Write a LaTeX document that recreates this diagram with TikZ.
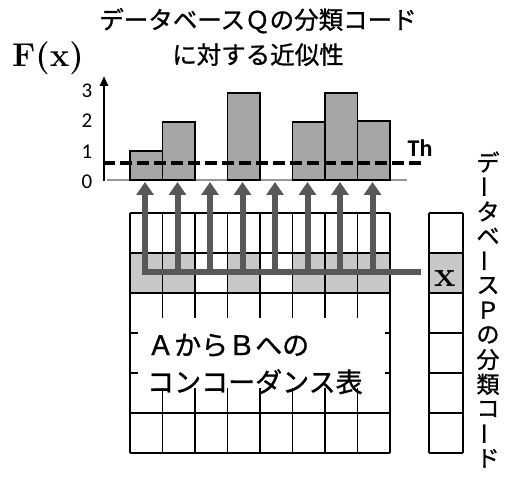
\documentclass[tikz,border=0pt]{standalone}
\usepackage{fontspec}
\newfontfamily\jp{Noto Sans CJK JP}[FakeBold=1]
\newfontfamily\carl{Carlito}
\usetikzlibrary{arrows.meta}
\definecolor{arrowgray}{RGB}{88,88,90}
\definecolor{cellgray}{RGB}{200,200,200}
\definecolor{bargray}{RGB}{166,166,166}
\definecolor{basegray}{RGB}{150,150,150}
\begin{document}
\begin{tikzpicture}[x=1pt,y=-1pt,
  gridline/.style={line width=1.1pt, black},
  barbox/.style={draw=black, line width=1.2pt, fill=bargray},
  feed/.style={line width=6pt, draw=arrowgray},
  feedtip/.style={feed, -{Triangle[width=17pt,length=13pt]}},
  ticklab/.style={font=\carl\fontsize{21}{21}\selectfont, inner sep=0},
  vchar/.style={font=\jp\fontsize{23}{23}\selectfont, inner sep=0},
]
\useasboundingbox (0,0) rectangle (511,481);

% shaded cells
\foreach \i in {0,1,3,5,6,7}
  \fill[cellgray] (130+32.5*\i,253) rectangle ++(32.5,40);
\fill[cellgray] (429,253) rectangle (463,293);

% concordance grid
\foreach \i in {0,...,8}
  \draw[gridline] (130+32.5*\i,213) -- (130+32.5*\i,453);
\foreach \j in {0,...,6}
  \draw[gridline] (130,213+40*\j) -- (390,213+40*\j);
% code column of P
\foreach \j in {0,...,6}
  \draw[gridline] (429,213+40*\j) -- (463,213+40*\j);
\draw[gridline] (429,213) -- (429,453);
\draw[gridline] (463,213) -- (463,453);

% white area for the table label
\fill[white] (138,318) rectangle (385,388);
\node[anchor=west, align=left, inner sep=0,
      font=\jp\fontsize{27}{37}\selectfont] (tbl) at (147,364)
      {ＡからＢへの\\コンコーダンス表};

% x cell
\node[font=\bfseries\fontsize{36}{36}\selectfont, inner sep=0] (xc) at (445,279) {x};

% chart baseline
\draw[basegray, line width=1.2pt] (107,180) -- (407,180);

% bars
\draw[barbox] (130,180) rectangle (162.5,151);
\draw[barbox] (162.5,180) rectangle (195,122);
\draw[barbox] (227.5,180) rectangle (260,93);
\draw[barbox] (292.5,180) rectangle (325,122);
\draw[barbox] (325,180) rectangle (357.5,93);
\draw[barbox] (357.5,180) rectangle (390,121);

% threshold
\draw[black, line width=3.5pt, dash pattern=on 12pt off 5pt] (103,163) -- (422,163);
\node[font=\carl\bfseries\fontsize{24}{24}\selectfont, inner sep=0] (th) at (420,148) {Th};

% y axis
\draw[line width=2.5pt, -{Triangle[width=8pt,length=10pt]}] (104,181) -- (104,76);
\node[ticklab] (l3) at (87,91) {3};
\node[ticklab] (l2) at (87,121) {2};
\node[ticklab] (l1) at (87,152) {1};
\node[ticklab] (l0) at (87,182) {0};

% arrows from the row of x to the bars
\coordinate (hr) at (421,272);
\foreach \i in {0,...,7} {
  \coordinate (b\i) at (145+32.5*\i,272);
  \coordinate (t\i) at (145+32.5*\i,182);
}
\draw[feedtip] (hr) -- (b0) -- (t0);
\foreach \i in {1,...,7}
  \draw[feedtip] (b\i) -- (t\i);

% titles
\node[font=\jp\fontsize{24.5}{35}\selectfont, align=center, inner sep=0] (title) at (258,37)
  {データベースＱの分類コード\\に対する近似性};
\node[font=\bfseries\fontsize{33}{33}\selectfont, inner sep=0] (fx) at (48,58) {F(x)};

% vertical label
\foreach \c/\r [count=\k from 0] in {デ/0,ー/90,タ/0,ベ/0,ー/90,ス/0,Ｐ/0,の/0,分/0,類/0,コ/0,ー/90,ド/0}
  \node[vchar, rotate=\r] (v\k) at (488,162+24.7*\k) {\c};
\end{tikzpicture}
\end{document}
